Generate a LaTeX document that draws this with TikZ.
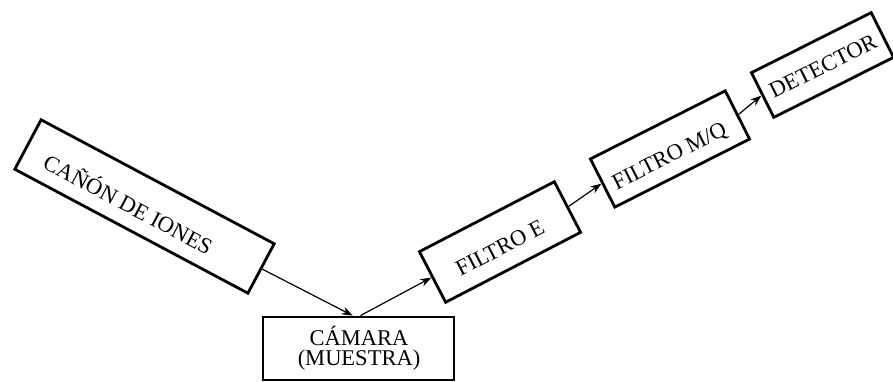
\documentclass[tikz,border=0pt]{standalone}
\usepackage{fontspec}
\setmainfont{Liberation Serif}
\usetikzlibrary{arrows.meta,calc}
\begin{document}
\begin{tikzpicture}[x=1pt,y=-1pt,
  box/.style={draw=black,line width=2.8pt,inner sep=0pt,fill=white},
  lbl/.style={inner sep=0pt,font=\fontsize{22.5}{24}\selectfont},
  conn/.style={line width=1.2pt,-{Stealth[length=11pt,width=8pt]}}]
\useasboundingbox (0,0) rectangle (893,382);
\clip (0,0) rectangle (893,382);
% boxes
\node[box,rotate=-28,minimum width=264pt,minimum height=56pt] (canon) at (144.5,206.5) {};
\node[box,minimum width=191pt,minimum height=63pt] (cam) at (358.5,348.5) {};
\node[box,rotate=27.4,minimum width=152pt,minimum height=57pt] (fe) at (500,242) {};
\node[box,rotate=26.8,minimum width=151pt,minimum height=54pt] (fmq) at (670,149) {};
\node[box,rotate=26.6,minimum width=134pt,minimum height=50pt] (det) at (822.5,65) {};
% labels
\node[lbl,rotate=-28] (canont) at (129,203) {CAÑÓN DE IONES};
\node[lbl,align=center] (camt) at (359,348) {CÁMARA\\[-4pt](MUESTRA)};
\node[lbl,rotate=27.4] (fet) at (500,248) {FILTRO E};
\node[lbl,rotate=26.8] (fmqt) at (670,157) {FILTRO M/Q};
\node[lbl,rotate=26.6] (dett) at (823,66) {DETECTOR};
% connectors
\coordinate (camin) at ($(cam.north west)!0.47!(cam.north east)$);
\coordinate (camout) at ($(cam.north west)!0.51!(cam.north east)$);
\draw[conn] (canon.east) -- (camin);
\draw[conn] (camout) -- (fe.west);
\draw[conn] (fe.east) -- (fmq.west);
\draw[conn] (fmq.east) -- (det.west);
\end{tikzpicture}
\end{document}
